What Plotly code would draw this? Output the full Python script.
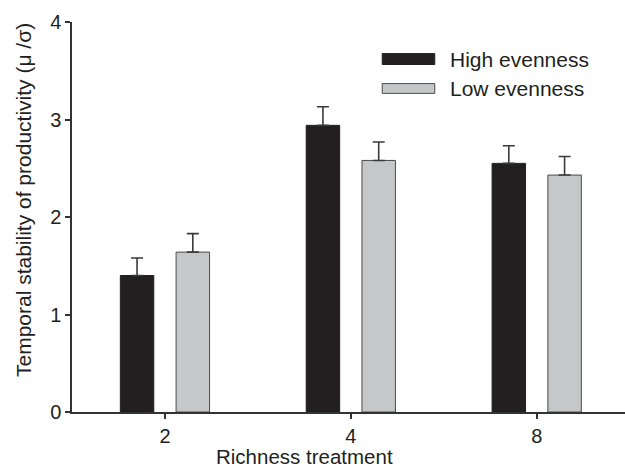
import plotly.graph_objects as go

categories = ["2", "4", "8"]
series_names = ["High evenness", "Low evenness"]
high_evenness = [1.40, 2.94, 2.55]
low_evenness = [1.64, 2.58, 2.43]
high_err = [0.18, 0.19, 0.18]
low_err = [0.19, 0.19, 0.19]
y_ticks = [0, 1, 2, 3, 4]

FONT = "Liberation Sans, Arial, sans-serif"
TXT = "#231f20"
DARK = "#231f20"
GRAY = "#c6c7c9"

fig = go.Figure()
fig.add_trace(go.Bar(
    x=categories, y=high_evenness, name=series_names[0],
    marker=dict(color=DARK, line=dict(color="#231f20", width=1)),
    error_y=dict(type="data", array=high_err, arrayminus=[0]*3, symmetric=False,
                 color="#3a3a3a", thickness=1.6, width=6),
    showlegend=False,
))
fig.add_trace(go.Bar(
    x=categories, y=low_evenness, name=series_names[1],
    marker=dict(color=GRAY, line=dict(color="#4a4a4a", width=1)),
    error_y=dict(type="data", array=low_err, arrayminus=[0]*3, symmetric=False,
                 color="#3a3a3a", thickness=1.6, width=6),
    showlegend=False,
))

# custom legend (paper coordinates)
legend_items = [(series_names[0], DARK, "#231f20", 0.919, 0.891),
                (series_names[1], GRAY, "#4a4a4a", 0.842, 0.817)]
for name, fill, line, y1, y0 in legend_items:
    fig.add_shape(type="rect", xref="paper", yref="paper",
                  x0=0.561, x1=0.656, y0=y0, y1=y1,
                  fillcolor=fill, line=dict(color=line, width=1))
    fig.add_annotation(xref="paper", yref="paper", x=0.680, y=(y0 + y1) / 2,
                       text=name, showarrow=False, xanchor="left", yanchor="middle",
                       font=dict(family=FONT, size=21, color=TXT))

fig.add_annotation(xref="paper", yref="paper", x=0.4213, y=-0.114,
                   text="Richness treatment", showarrow=False,
                   xanchor="center", yanchor="middle",
                   font=dict(family=FONT, size=20.5, color=TXT))
fig.add_annotation(xref="paper", yref="paper", x=-0.0886, y=0.5435,
                   text="Temporal stability of productivity (μ /σ)", showarrow=False,
                   textangle=-90, xanchor="center", yanchor="middle",
                   font=dict(family=FONT, size=21, color=TXT))

fig.update_layout(
    width=625, height=470,
    margin=dict(l=72, r=0, t=22, b=58),
    paper_bgcolor="white", plot_bgcolor="white",
    barmode="group", bargap=0.4, bargroupgap=0.4,
    font=dict(family=FONT, size=20, color=TXT),
)
fig.update_xaxes(
    type="category", range=[-0.5, 2.475],
    showline=True, linecolor="#333333", linewidth=1.5,
    ticks="outside", ticklen=5, tickcolor="#333333", tickwidth=1.5,
    showgrid=False, zeroline=False,
    tickfont=dict(family=FONT, size=20, color=TXT),
)
fig.update_yaxes(
    range=[0, 4], tickvals=y_ticks,
    showline=True, linecolor="#333333", linewidth=1.5,
    ticks="outside", ticklen=5, tickcolor="#333333", tickwidth=1.5,
    showgrid=False, zeroline=False,
    tickfont=dict(family=FONT, size=20, color=TXT),
)

fig.write_html(
    "out.html",
    config={"displayModeBar": False},
    post_script="document.body.style.margin='0';document.body.style.overflow='hidden';",
)
